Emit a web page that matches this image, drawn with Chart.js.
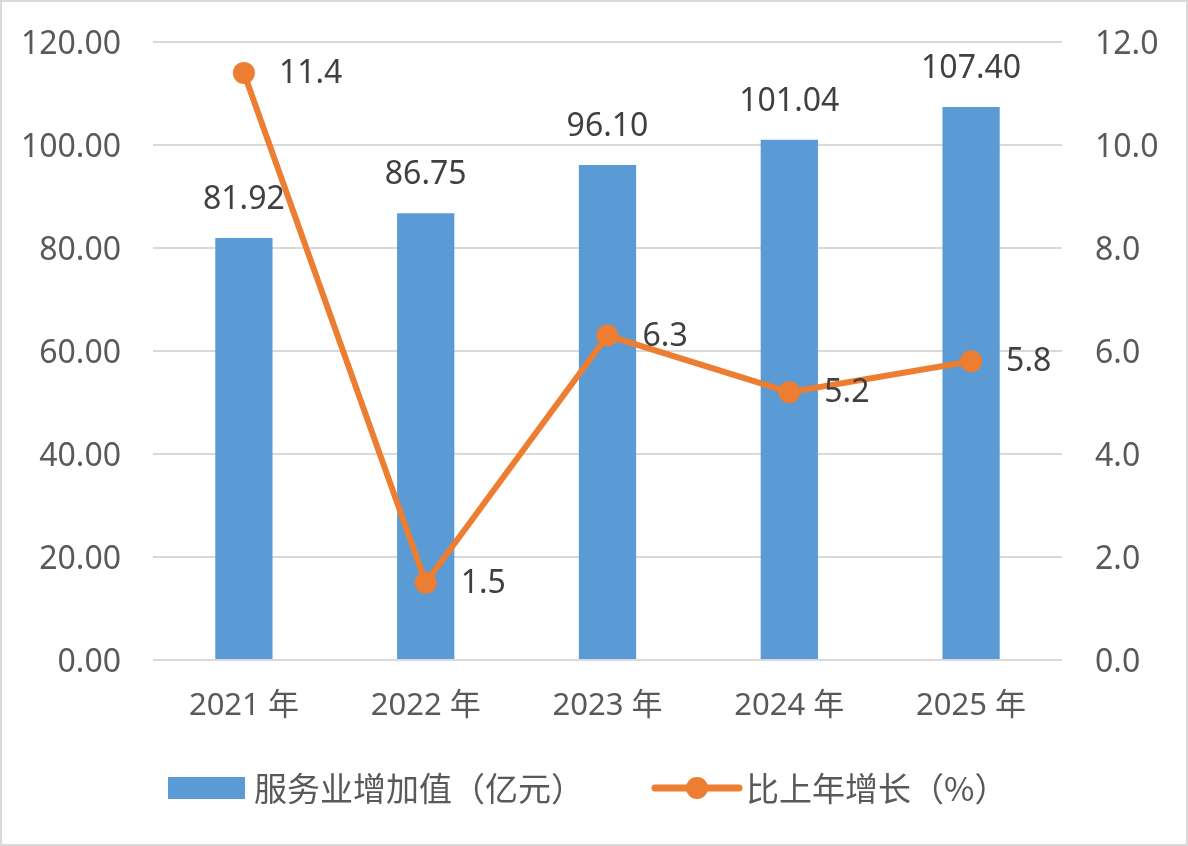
<!DOCTYPE html>
<html><head><meta charset="utf-8">
<script src="https://cdn.jsdelivr.net/npm/chart.js@4"></script>
<style>
html,body{margin:0;padding:0;background:#fff;}
#wrap{position:absolute;left:0;top:0;width:1184px;height:842px;border:2px solid #d9d9d9;background:#fff;}
canvas{display:block;}
</style></head>
<body><div id="wrap"><canvas id="c" width="1184" height="842"></canvas></div>
<script>
const categories = ['2021 年','2022 年','2023 年','2024 年','2025 年'];
const serviceValue = [81.92, 86.75, 96.10, 101.04, 107.40];
const growthRate = [11.4, 1.5, 6.3, 5.2, 5.8];
const seriesNames = ['服务业增加值（亿元）','比上年增长（%）'];
const leftTicks = [0,20,40,60,80,100,120];
const rightTicks = [0,2,4,6,8,10,12];

const FONT = "'Noto Sans', 'Noto Sans CJK SC', sans-serif";
const CJK = "'Noto Sans CJK SC', 'Noto Sans', sans-serif";
const BLUE = '#5B9BD5', ORANGE = '#ED7D31', TXT = '#595959', LBL = '#404040', GRID = '#d9d9d9';

const labelPlugin = {
  id:'labels',
  afterDatasetsDraw(chart){
    const ctx = chart.ctx;
    ctx.save();
    ctx.fillStyle = LBL;
    ctx.font = "32px " + FONT;
    const mBar = chart.getDatasetMeta(1);
    mBar.data.forEach((el,i)=>{
      ctx.textAlign='center'; ctx.textBaseline='middle';
      ctx.fillText(serviceValue[i].toFixed(2), el.x, el.y-38);
    });
    const mLine = chart.getDatasetMeta(0);
    mLine.data.forEach((el,i)=>{
      ctx.textAlign='left'; ctx.textBaseline='middle';
      ctx.fillText(growthRate[i].toFixed(1), el.x+35, el.y+1);
    });
    ctx.restore();
  },
  afterDraw(chart){
    const ctx = chart.ctx;
    ctx.save();
    const y = 786;
    ctx.fillStyle = BLUE;
    ctx.fillRect(166, y-11, 77, 22);
    ctx.fillStyle = TXT;
    ctx.font = "33px " + CJK;
    ctx.textAlign='left'; ctx.textBaseline='middle';
    ctx.fillText(seriesNames[0], 252, y);
    ctx.strokeStyle = ORANGE; ctx.lineWidth = 7; ctx.lineCap='round';
    ctx.beginPath(); ctx.moveTo(653,y); ctx.lineTo(737,y); ctx.stroke();
    ctx.fillStyle = ORANGE;
    ctx.beginPath(); ctx.arc(695,y,11,0,Math.PI*2); ctx.fill();
    ctx.fillStyle = TXT;
    ctx.fillText(seriesNames[1], 744, y);
    ctx.restore();
  }
};

new Chart(document.getElementById('c'), {
  data:{
    labels: categories,
    datasets:[
      {type:'line', label:seriesNames[1], data:growthRate, yAxisID:'y1', borderColor:ORANGE, backgroundColor:ORANGE,
       borderWidth:6, pointRadius:11, pointHoverRadius:11, pointBackgroundColor:ORANGE, pointBorderWidth:0, tension:0, order:0},
      {type:'bar', label:seriesNames[0], data:serviceValue, yAxisID:'y', backgroundColor:BLUE,
       categoryPercentage:1, barPercentage:0.315, order:1}
    ]
  },
  plugins:[labelPlugin],
  options:{
    responsive:false, animation:false, devicePixelRatio:1,
    layout:{padding:{top:40,left:0,right:0,bottom:0}},
    plugins:{legend:{display:false}, tooltip:{enabled:false}},
    scales:{
      x:{
        grid:{display:false, drawTicks:false}, border:{display:false},
        ticks:{color:TXT, font:{size:31, family:FONT}, padding:28},
        afterFit(s){ s.height = 842-658; s.paddingLeft = 0; s.paddingRight = 0; }
      },
      y:{
        position:'left', min:0, max:120,
        afterBuildTicks(s){ s.ticks = leftTicks.map(v=>({value:v})); },
        grid:{color:GRID, lineWidth:2, drawTicks:false}, border:{display:false},
        ticks:{color:TXT, font:{size:32, family:FONT}, padding:32, labelOffset:3, callback:v=>Number(v).toFixed(2)},
        afterFit(s){ s.width = 151; s.paddingTop = 0; s.paddingBottom = 0; }
      },
      y1:{
        position:'right', min:0, max:12,
        afterBuildTicks(s){ s.ticks = rightTicks.map(v=>({value:v})); },
        grid:{display:false, drawTicks:false}, border:{display:false},
        ticks:{color:TXT, font:{size:32, family:FONT}, padding:33, labelOffset:3, callback:v=>Number(v).toFixed(1)},
        afterFit(s){ s.width = 1184-1060; s.paddingTop = 0; s.paddingBottom = 0; }
      }
    }
  }
});
</script></body></html>
